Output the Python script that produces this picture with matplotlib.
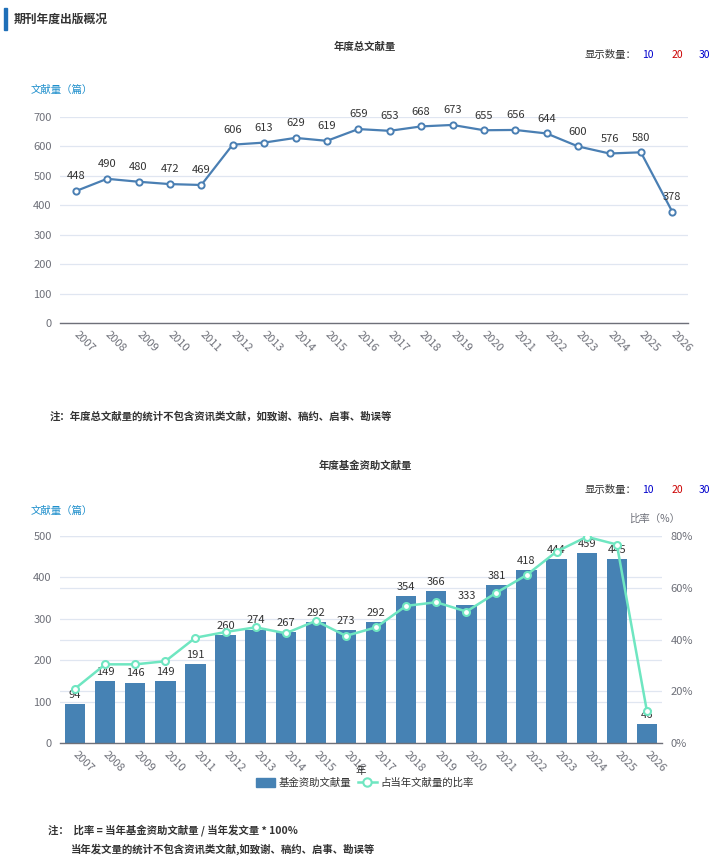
import matplotlib
matplotlib.use('Agg')
import matplotlib.pyplot as plt
from matplotlib.patches import Rectangle
from matplotlib.lines import Line2D

plt.rcParams['font.family'] = ['Noto Sans CJK SC', 'DejaVu Sans']

W, H = 724, 865

years = [str(y) for y in range(2007, 2027)]
total_counts = [448, 490, 480, 472, 469, 606, 613, 629, 619, 659,
                653, 668, 673, 655, 656, 644, 600, 576, 580, 378]
fund_counts = [94, 149, 146, 149, 191, 260, 274, 267, 292, 273,
               292, 354, 366, 333, 381, 418, 444, 459, 445, 46]
fund_ratio = [21.0, 30.4, 30.4, 31.6, 40.7, 42.9, 44.7, 42.4, 47.2, 41.4,
              44.7, 53.0, 54.4, 50.8, 58.1, 64.9, 74.0, 79.7, 76.7, 12.2]

top_yticks = [0, 100, 200, 300, 400, 500, 600, 700]
bot_yticks = [0, 100, 200, 300, 400, 500]
ratio_ticks = [0, 20, 40, 60, 80]

AXIS_C = '#6e7079'
GRID_C = '#e0e6f1'
LINE_C = '#4a7fb3'
BAR_C = '#4682b4'
RATIO_C = '#6fe6c1'
TXT_C = '#333333'
LABEL_C = '#1e8fcc'


def fx(x):
    return x / W


def fy(y):
    return 1 - y / H


def ax_box(x0, y0, x1, y1):
    return [fx(x0), fy(y1), (x1 - x0) / W, (y1 - y0) / H]


def style_axis(ax):
    for s in ['top', 'right', 'left']:
        ax.spines[s].set_visible(False)
    ax.spines['bottom'].set_color(AXIS_C)
    ax.spines['bottom'].set_linewidth(1)
    ax.tick_params(axis='both', length=0, colors=AXIS_C, labelsize=8)
    ax.tick_params(axis='y', pad=6)
    ax.grid(True, axis='y', color=GRID_C, linewidth=0.9)
    ax.set_axisbelow(True)
    ax.set_xticks(range(len(years)))
    ax.set_xticklabels(years, rotation=-45, ha='left', va='center',
                       rotation_mode='anchor')
    ax.tick_params(axis='x', pad=7)


def show_count(y):
    fig.text(fx(585), fy(y), '显示数量：', fontsize=7.5, color=TXT_C, va='center')
    fig.text(fx(648), fy(y), '10', fontsize=7.5, color='#0000cc', va='center', ha='center')
    fig.text(fx(677), fy(y), '20', fontsize=7.5, color='#cc0000', va='center', ha='center')
    fig.text(fx(704), fy(y), '30', fontsize=7.5, color='#0000cc', va='center', ha='center')


fig = plt.figure(figsize=(W / 100, H / 100), dpi=100)

# header
fig.add_artist(Rectangle((fx(4), fy(30)), 3 / W, 22 / H, color='#1f6fb8',
                         transform=fig.transFigure))
fig.text(fx(14), fy(19), '期刊年度出版概况', fontsize=8.5, fontweight='bold',
         color=TXT_C, va='center')

# ---- 年度总文献量 ----
ax1 = fig.add_axes(ax_box(60, 117, 688, 323))
style_axis(ax1)
x = list(range(len(years)))
ax1.plot(x, total_counts, color=LINE_C, linewidth=1.6, marker='o',
         markersize=4.5, markerfacecolor='white', markeredgecolor=LINE_C,
         markeredgewidth=1.4, zorder=3)
for i, v in enumerate(total_counts):
    ax1.annotate(str(v), (i, v), xytext=(0, 7), textcoords='offset points',
                 ha='center', va='bottom', fontsize=8, color=TXT_C)
ax1.set_xlim(-0.5, len(years) - 0.5)
ax1.set_ylim(0, 700)
ax1.set_yticks(top_yticks)

fig.text(fx(365), fy(47), '年度总文献量', fontsize=7.5, fontweight='bold',
         color=TXT_C, ha='center', va='center')
show_count(55)
fig.text(fx(31), fy(90), '文献量（篇）', fontsize=7.5, color=LABEL_C, va='center')
fig.text(fx(50), fy(416), '注：年度总文献量的统计不包含资讯类文献，如致谢、稿约、启事、勘误等',
         fontsize=7.5, fontweight='bold', color=TXT_C, va='center')

# ---- 年度基金资助文献量 ----
ax2 = fig.add_axes(ax_box(60, 536, 662, 743))
style_axis(ax2)
ax2.bar(x, fund_counts, width=0.68, color=BAR_C, zorder=2)
for i, v in enumerate(fund_counts):
    ax2.annotate(str(v), (i, v), xytext=(0, 3), textcoords='offset points',
                 ha='center', va='bottom', fontsize=8, color=TXT_C, zorder=5)
ax2.set_xlim(-0.5, len(years) - 0.5)
ax2.set_ylim(0, 500)
ax2.set_yticks(bot_yticks)

ax3 = ax2.twinx()
for s in ['top', 'right', 'left', 'bottom']:
    ax3.spines[s].set_visible(False)
ax3.plot(x, fund_ratio, color=RATIO_C, linewidth=1.8, marker='o',
         markersize=5, markerfacecolor='white', markeredgecolor=RATIO_C,
         markeredgewidth=1.5, zorder=4)
ax3.set_ylim(0, 80)
ax3.set_yticks(ratio_ticks)
ax3.set_yticklabels([f'{t}%' for t in ratio_ticks])
ax3.tick_params(axis='y', length=0, colors=AXIS_C, labelsize=8, pad=6)
for t in ratio_ticks[1:]:
    ax2.axhline(t / 80 * 500, color=GRID_C, linewidth=0.9, zorder=0)

fig.text(fx(365), fy(466), '年度基金资助文献量', fontsize=7.5, fontweight='bold',
         color=TXT_C, ha='center', va='center')
show_count(490)
fig.text(fx(31), fy(511), '文献量（篇）', fontsize=7.5, color=LABEL_C, va='center')
fig.text(fx(680), fy(519), '比率（%）', fontsize=7.5, color=AXIS_C,
         ha='right', va='center')
fig.text(fx(361), fy(771), '年', fontsize=7.5, color=TXT_C, ha='center', va='center')

handles = [Rectangle((0, 0), 1, 1, facecolor=BAR_C, edgecolor=BAR_C),
           Line2D([0], [0], color=RATIO_C, linewidth=1.8, marker='o',
                  markersize=6, markerfacecolor='white',
                  markeredgecolor=RATIO_C, markeredgewidth=1.5)]
fig.legend(handles, ['基金资助文献量', '占当年文献量的比率'], loc='center',
           bbox_to_anchor=(fx(365), fy(783)), ncol=2, frameon=False,
           fontsize=7.5, handlelength=1.8, handleheight=1.0,
           columnspacing=0.6, handletextpad=0.4, labelcolor=TXT_C)

fig.text(fx(48), fy(830), '注：  比率 = 当年基金资助文献量 / 当年发文量 * 100%',
         fontsize=7.5, fontweight='bold', color=TXT_C, va='center')
fig.text(fx(71), fy(849), '当年发文量的统计不包含资讯类文献,如致谢、稿约、启事、勘误等',
         fontsize=7.5, fontweight='bold', color=TXT_C, va='center')

fig.savefig('out.png', dpi=100)
